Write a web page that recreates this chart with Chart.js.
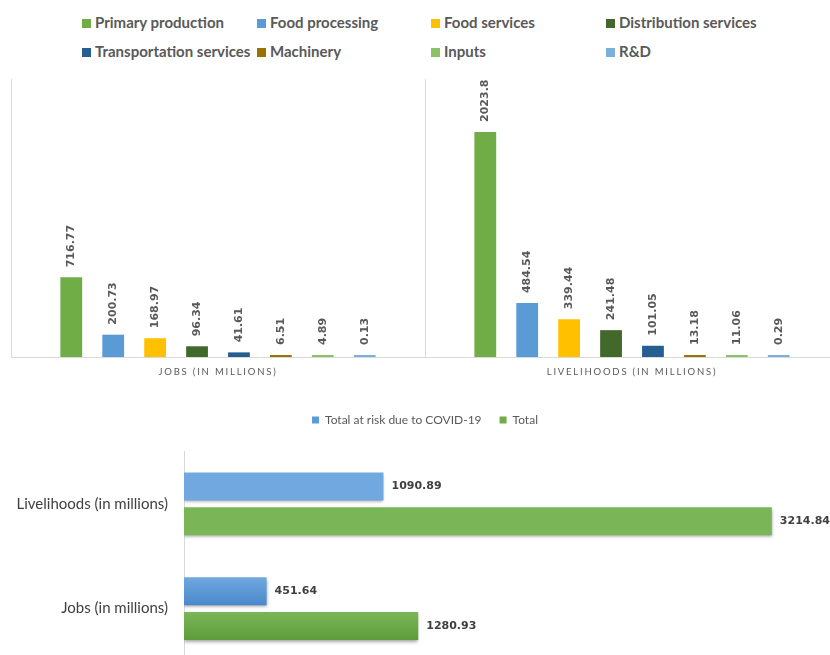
<!DOCTYPE html>
<html>
<head>
<meta charset="utf-8">
<script src="https://cdn.jsdelivr.net/npm/chart.js@4.4.0/dist/chart.umd.min.js"></script>
<style>
  body { margin: 0; width: 830px; height: 655px; overflow: hidden; background: #fff; position: relative; }
  .box { position: absolute; }
  .item { position: absolute; font: bold 15px Lato; color: #595959; white-space: nowrap; line-height: 16px; }
  .sw { display: inline-block; width: 9px; height: 9px; margin-right: 4px; }
</style>
</head>
<body>
<div id="legend"></div>
<canvas id="jobs" class="box" width="440" height="320" style="left:0;top:70px"></canvas>
<canvas id="livelihoods" class="box" width="420" height="320" style="left:420px;top:70px"></canvas>
<canvas id="totals" class="box" width="830" height="287" style="left:0;top:391px"></canvas>
<script>
const sectors = ["Primary production", "Food processing", "Food services", "Distribution services",
  "Transportation services", "Machinery", "Inputs", "R&D"]
const sectorColors = ["#70AD47", "#5B9BD5", "#FFC000", "#43682B", "#255E91", "#997300", "#8CC168", "#7CAFDD"]
const jobs = [716.77, 200.73, 168.97, 96.34, 41.61, 6.51, 4.89, 0.13]
const livelihoods = [2023.8, 484.54, 339.44, 241.48, 101.05, 13.18, 11.06, 0.29]

const totalCategories = ["Livelihoods (in millions)", "Jobs (in millions)"]
const atRisk = [1090.89, 451.64]
const totals = [3214.84, 1280.93]

// legend shared by the two top charts
const legendCols = [82, 257, 431, 606]
const legendRows = [14, 43]
const legend = document.getElementById("legend")
sectors.forEach((name, i) => {
  const item = document.createElement("div")
  item.className = "item"
  item.style.left = legendCols[i % 4] + "px"
  item.style.top = legendRows[Math.floor(i / 4)] + "px"
  item.innerHTML = `<span class="sw" style="background:${sectorColors[i]}"></span>`
  item.appendChild(document.createTextNode(name))
  legend.appendChild(item)
})

const barLabels = {
  id: "barLabels",
  afterDatasetsDraw(chart, args, opts) {
    const ctx = chart.ctx
    ctx.save()
    ctx.font = opts.font
    ctx.fillStyle = opts.color
    ctx.textAlign = "left"
    ctx.textBaseline = "middle"
    chart.data.datasets.forEach((ds, i) => {
      chart.getDatasetMeta(i).data.forEach((bar, j) => {
        const txt = String(ds.data[j])
        if (opts.rotate) {
          ctx.save()
          ctx.translate(bar.x, bar.y - opts.offset)
          ctx.rotate(-Math.PI / 2)
          ctx.fillText(txt, 0, 0)
          ctx.restore()
        } else {
          ctx.fillText(txt, bar.x + opts.offset, bar.y)
        }
      })
    })
    ctx.restore()
  }
}

const axisTitle = {
  id: "axisTitle",
  afterDraw(chart, args, opts) {
    if (!opts.text) return
    const ctx = chart.ctx
    const a = chart.chartArea
    ctx.save()
    ctx.font = "9.5px Lato"
    ctx.fillStyle = "#595959"
    ctx.letterSpacing = "1.8px"
    ctx.textAlign = "center"
    ctx.textBaseline = "middle"
    ctx.fillText(opts.text, (a.left + a.right) / 2, a.bottom + opts.offset)
    ctx.restore()
  }
}

function sectorChart(id, values, title, padding) {
  new Chart(document.getElementById(id), {
    type: "bar",
    data: {
      labels: [title],
      datasets: sectors.map((s, i) => ({ label: s, data: [values[i]], backgroundColor: sectorColors[i] }))
    },
    options: {
      responsive: false,
      animation: false,
      layout: { padding },
      categoryPercentage: 0.81,
      barPercentage: 0.52,
      minBarLength: 2,
      scales: {
        x: { grid: { display: false }, ticks: { display: false }, border: { color: "#d9d9d9" }, afterFit: s => { s.height = 0 } },
        y: { min: 0, max: 2500, grid: { display: false }, ticks: { display: false }, border: { color: "#d9d9d9" }, afterFit: s => { s.width = 0 } }
      },
      plugins: {
        legend: { display: false },
        tooltip: { enabled: false },
        barLabels: { font: "bold 11px 'DejaVu Sans'", color: "#595959", rotate: true, offset: 10 },
        axisTitle: { text: title.toUpperCase(), offset: 15 }
      }
    },
    plugins: [barLabels, axisTitle]
  })
}

sectorChart("jobs", jobs, totalCategories[1], { left: 11, right: 15, top: 9, bottom: 33 })
sectorChart("livelihoods", livelihoods, totalCategories[0], { left: 5, right: 1, top: 9, bottom: 33 })

// extra room under the legend, and nudge it right like the original
const legendSpace = {
  id: "legendSpace",
  beforeInit(chart) {
    const fit = chart.legend.fit
    chart.legend.fit = function () {
      fit.bind(chart.legend)()
      this.height += 15.5
    }
  },
  afterLayout(chart) {
    chart.legend.left += 13
    chart.legend.right += 13
  }
}

// light-to-dark shading and a soft shadow on the horizontal bars
const barShade = {
  id: "barShade",
  beforeDatasetsDraw(chart) {
    const ctx = chart.ctx
    chart.data.datasets.forEach((ds, i) => {
      chart.getDatasetMeta(i).data.forEach(bar => {
        const g = ctx.createLinearGradient(0, bar.y - bar.height / 2, 0, bar.y + bar.height / 2)
        g.addColorStop(0, ds.shade[0])
        g.addColorStop(1, ds.shade[1])
        bar.options.backgroundColor = g
      })
    })
    ctx.save()
    ctx.shadowColor = "rgba(0,0,0,0.35)"
    ctx.shadowBlur = 3
    ctx.shadowOffsetY = 2
  },
  afterDatasetsDraw(chart) {
    chart.ctx.restore()
  }
}

new Chart(document.getElementById("totals"), {
  type: "bar",
  data: {
    labels: totalCategories,
    datasets: [
      { label: "Total at risk due to COVID-19", data: atRisk, backgroundColor: "#5B9BD5", shade: ["#70A8DF", "#4A89CC"] },
      { label: "Total", data: totals, backgroundColor: "#70AD47", shade: ["#7AB658", "#5E9C3A"] }
    ]
  },
  options: {
    indexAxis: "y",
    responsive: false,
    animation: false,
    layout: { padding: { top: 5, right: 6, bottom: 8, left: 0 } },
    categoryPercentage: 0.665,
    barPercentage: 0.8,
    scales: {
      x: { min: 0, max: 3500, grid: { display: false }, ticks: { display: false }, border: { display: false }, afterFit: s => { s.height = 0 } },
      y: {
        grid: { display: false },
        border: { color: "#d9d9d9" },
        ticks: { font: { family: "Lato", size: 15 }, color: "#404040", padding: 8 },
        afterFit: s => { s.width = 184 }
      }
    },
    plugins: {
      legend: {
        position: "top",
        labels: { boxWidth: 7, boxHeight: 7, font: { family: "Lato", size: 12 }, color: "#595959", padding: 18 }
      },
      tooltip: { enabled: false },
      barLabels: { font: "bold 11px 'DejaVu Sans'", color: "#404040", rotate: false, offset: 8 }
    }
  },
  plugins: [barShade, barLabels, legendSpace]
})
</script>
</body>
</html>
